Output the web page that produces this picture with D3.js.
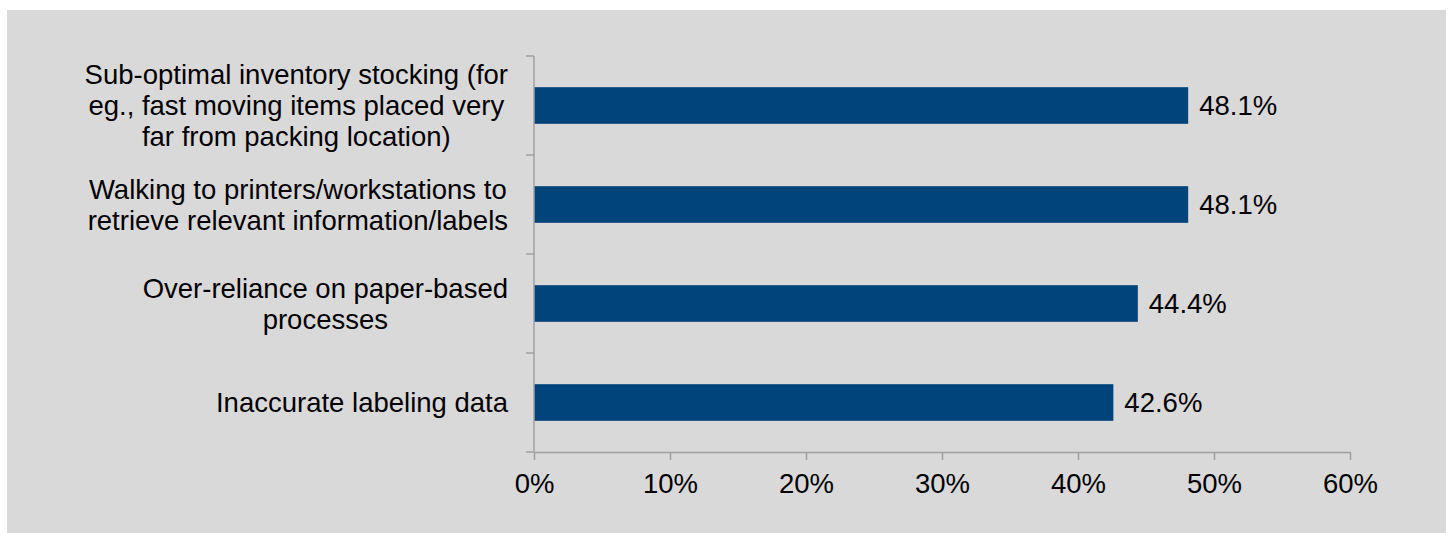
<!DOCTYPE html>
<html>
<head>
<meta charset="utf-8">
<script src="https://cdn.jsdelivr.net/npm/d3@7"></script>
<style>
  html, body { margin: 0; padding: 0; background: #ffffff; }
  svg { display: block; }
  text { font-family: "Liberation Sans", Arial, sans-serif; fill: #000; }
</style>
</head>
<body>
<svg id="chart" width="1448" height="533"></svg>
<script>
// Survey categories (line breaks are where the label wraps)
const categories = [
  "Sub-optimal inventory stocking (for\neg., fast moving items placed very\nfar from packing location)",
  "Walking to printers/workstations to\nretrieve relevant information/labels",
  "Over-reliance on paper-based\nprocesses",
  "Inaccurate labeling data"
];
// Share of respondents, percent
const values = [48.1, 48.1, 44.4, 42.6];
// Horizontal axis ticks, percent
const xTicks = [0, 10, 20, 30, 40, 50, 60];

const svg = d3.select("#chart");
const W = 1448, H = 533;

// Panel background
svg.append("rect")
  .attr("x", 7).attr("y", 10)
  .attr("width", 1439).attr("height", H - 10)
  .attr("fill", "#d9d9d9");

const plot = { left: 534, right: 1350, top: 56, bottom: 452 };
const fontSize = 27.5;
const axisColor = "#a0a0a0";

const x = d3.scaleLinear().domain([0, 60]).range([plot.left, plot.right]);
const y = d3.scaleBand().domain(categories)
  .range([plot.top, plot.bottom])
  .paddingInner(0.63).paddingOuter(0.315);

// Bars
svg.append("g").selectAll("rect")
  .data(categories)
  .join("rect")
  .attr("x", x(0))
  .attr("y", d => y(d))
  .attr("width", (d, i) => x(values[i]) - x(0))
  .attr("height", y.bandwidth())
  .attr("fill", "#00447c");

// Value labels
svg.append("g").selectAll("text")
  .data(categories)
  .join("text")
  .attr("x", (d, i) => x(values[i]) + 11)
  .attr("y", d => y(d) + y.bandwidth() / 2)
  .attr("dy", "0.36em")
  .attr("font-size", fontSize)
  .text((d, i) => d3.format(".1f")(values[i]) + "%");

// X axis
const xAxis = d3.axisBottom(x)
  .tickValues(xTicks)
  .tickFormat(d => d + "%")
  .tickSize(8)
  .tickSizeOuter(0)
  .tickPadding(13);
const gx = svg.append("g")
  .attr("transform", `translate(0,${plot.bottom})`)
  .call(xAxis);
gx.select(".domain").attr("stroke", axisColor).attr("stroke-width", 1.5);
gx.selectAll(".tick line").attr("stroke", axisColor).attr("stroke-width", 1.5);
gx.selectAll(".tick text")
  .attr("font-size", fontSize)
  .attr("font-family", "Liberation Sans, Arial, sans-serif")
  .attr("fill", "#000");

// Y axis: line with ticks on category boundaries
const step = y.step();
const boundaries = d3.range(categories.length + 1).map(i => plot.top + i * step);
const gy = svg.append("g");
gy.append("line")
  .attr("x1", plot.left).attr("x2", plot.left)
  .attr("y1", plot.top).attr("y2", plot.bottom)
  .attr("stroke", axisColor).attr("stroke-width", 1.5);
gy.selectAll("line.tick")
  .data(boundaries)
  .join("line")
  .attr("class", "tick")
  .attr("x1", plot.left - 8).attr("x2", plot.left)
  .attr("y1", d => d).attr("y2", d => d)
  .attr("stroke", axisColor).attr("stroke-width", 1.5);

// Category labels: centred lines, block right-aligned to the axis
const lineHeight = 31;
const labelRight = 508;
const gl = svg.append("g");
categories.forEach(cat => {
  const lines = cat.split("\n");
  const t = gl.append("text")
    .attr("font-size", fontSize)
    .attr("text-anchor", "middle");
  const cy = y(cat) + y.bandwidth() / 2;
  const n = lines.length;
  lines.forEach((ln, i) => {
    t.append("tspan")
      .attr("y", cy + (i - (n - 1) / 2) * lineHeight)
      .attr("dy", "0.36em")
      .text(ln);
  });
  const widths = [];
  t.selectAll("tspan").each(function() { widths.push(this.getComputedTextLength()); });
  const cx = labelRight - d3.max(widths) / 2;
  t.selectAll("tspan").attr("x", cx);
});
</script>
</body>
</html>
